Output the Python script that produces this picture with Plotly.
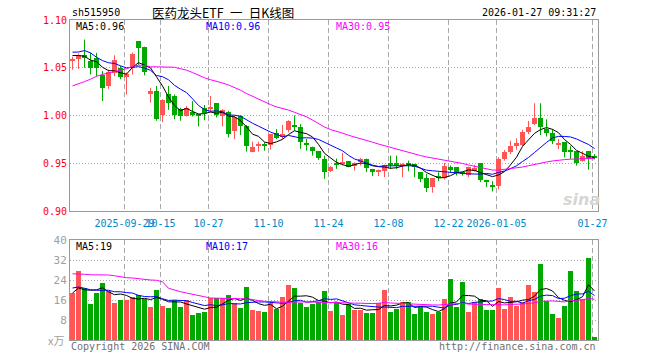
import numpy as np
import pandas as pd
import plotly.graph_objects as go

# ---------------- data ----------------
holidays = ["2025-10-01", "2025-10-02", "2025-10-03", "2025-10-06", "2025-10-07",
            "2025-10-08", "2026-01-01", "2026-01-02"]
_days = pd.bdate_range("2025-09-16", "2026-01-27")
_days = _days[~_days.isin(pd.to_datetime(holidays))]
dates = [d.strftime("%Y-%m-%d") for d in _days]

open_ = [1.0575, 1.0590, 1.0632, 1.0570, 1.0600, 1.0423, 1.0310, 1.0450, 1.0500, 1.0400,
         1.0500, 1.0777, 1.0720, 1.0220, 1.0256, 1.0003, 1.0220, 1.0204, 1.0066, 0.9997,
         1.0038, 1.0007, 1.0083, 1.0070, 1.0128, 0.9997, 1.0038, 0.9840, 0.9997, 0.9886,
         0.9615, 0.9684, 0.9688, 0.9691, 0.9813, 0.9771, 0.9851, 0.9889, 0.9875, 0.9705,
         0.9674, 0.9625, 0.9546, 0.9424, 0.9485, 0.9490, 0.9524, 0.9469, 0.9510, 0.9546,
         0.9441, 0.9410, 0.9424, 0.9486, 0.9503, 0.9476, 0.9486, 0.9493, 0.9406, 0.9344,
         0.9250, 0.9358, 0.9344, 0.9458, 0.9458, 0.9406, 0.9379, 0.9424, 0.9503, 0.9316,
         0.9264, 0.9267, 0.9545, 0.9621, 0.9683, 0.9690, 0.9823, 0.9910, 0.9972, 0.9857,
         0.9816, 0.9695, 0.9719, 0.9624, 0.9625, 0.9527, 0.9625, 0.9580]
high = [1.0615, 1.0650, 1.0795, 1.0656, 1.0656, 1.0465, 1.0480, 1.0630, 1.0520, 1.0450,
        1.0660, 1.0777, 1.0720, 1.0290, 1.0310, 1.0170, 1.0310, 1.0220, 1.0080, 1.0100,
        1.0150, 1.0014, 1.0110, 1.0204, 1.0130, 1.0066, 1.0049, 1.0000, 1.0003, 0.9900,
        0.9726, 0.9726, 0.9720, 0.9806, 0.9858, 0.9900, 0.9950, 1.0000, 0.9910, 0.9754,
        0.9674, 0.9625, 0.9580, 0.9470, 0.9549, 0.9608, 0.9524, 0.9510, 0.9556, 0.9549,
        0.9441, 0.9434, 0.9486, 0.9580, 0.9580, 0.9500, 0.9528, 0.9493, 0.9406, 0.9389,
        0.9344, 0.9406, 0.9503, 0.9476, 0.9458, 0.9413, 0.9465, 0.9483, 0.9503, 0.9327,
        0.9313, 0.9562, 0.9640, 0.9736, 0.9760, 0.9850, 0.9944, 1.0128, 1.0128, 0.9960,
        0.9857, 0.9753, 0.9719, 0.9683, 0.9625, 0.9625, 0.9625, 0.9597]
low = [1.0480, 1.0490, 1.0500, 1.0430, 1.0410, 1.0152, 1.0280, 1.0410, 1.0380, 1.0220,
       1.0430, 1.0530, 1.0420, 1.0135, 0.9945, 0.9930, 1.0060, 0.9960, 0.9945, 0.9990,
       0.9990, 0.9886, 0.9950, 1.0031, 0.9980, 0.9886, 0.9771, 0.9754, 0.9795, 0.9622,
       0.9615, 0.9622, 0.9632, 0.9643, 0.9754, 0.9754, 0.9823, 0.9840, 0.9650, 0.9632,
       0.9580, 0.9535, 0.9337, 0.9407, 0.9441, 0.9476, 0.9458, 0.9424, 0.9476, 0.9407,
       0.9365, 0.9365, 0.9355, 0.9441, 0.9441, 0.9354, 0.9417, 0.9354, 0.9302, 0.9198,
       0.9191, 0.9313, 0.9330, 0.9406, 0.9372, 0.9370, 0.9354, 0.9413, 0.9302, 0.9250,
       0.9205, 0.9226, 0.9527, 0.9597, 0.9642, 0.9683, 0.9805, 0.9900, 0.9795, 0.9780,
       0.9700, 0.9649, 0.9562, 0.9545, 0.9475, 0.9517, 0.9433, 0.9540]
close = [1.0585, 1.0635, 1.0598, 1.0500, 1.0500, 1.0292, 1.0460, 1.0585, 1.0400, 1.0430,
         1.0645, 1.0708, 1.0455, 1.0256, 0.9962, 1.0163, 1.0135, 1.0003, 0.9997, 1.0075,
         1.0003, 1.0000, 1.0024, 1.0083, 1.0003, 1.0059, 0.9806, 0.9980, 0.9886, 0.9677,
         0.9674, 0.9691, 0.9684, 0.9806, 0.9764, 0.9806, 0.9944, 0.9882, 0.9719, 0.9700,
         0.9632, 0.9556, 0.9413, 0.9462, 0.9482, 0.9517, 0.9465, 0.9503, 0.9546, 0.9448,
         0.9407, 0.9417, 0.9483, 0.9483, 0.9476, 0.9493, 0.9483, 0.9458, 0.9337, 0.9240,
         0.9344, 0.9354, 0.9476, 0.9434, 0.9399, 0.9385, 0.9458, 0.9448, 0.9320, 0.9313,
         0.9260, 0.9545, 0.9621, 0.9677, 0.9711, 0.9830, 0.9875, 0.9972, 0.9875, 0.9816,
         0.9736, 0.9701, 0.9615, 0.9620, 0.9503, 0.9580, 0.9545, 0.9552]
volume = [18.8, 27.5, 20.8, 14.5, 18.8, 22.9, 19.5, 14.9, 15.9, 15.9,
          17.1, 18.1, 16.4, 13.3, 20.1, 13.7, 12.9, 16.1, 13.3, 16.1,
          10.1, 10.8, 11.3, 16.7, 16.7, 16.7, 18.1, 14.8, 12.9, 21.3,
          12.1, 11.7, 11.3, 14.9, 12.5, 17.3, 22.1, 20.9, 14.9, 13.3,
          14.5, 15.3, 19.7, 11.7, 14.8, 10.1, 14.5, 12.1, 12.1, 10.9,
          10.9, 14.9, 20.1, 11.3, 12.5, 15.3, 15.3, 10.5, 13.3, 11.3,
          10.5, 11.3, 16.5, 24.5, 13.3, 23.3, 11.3, 15.3, 16.5, 12.1,
          12.1, 20.9, 12.5, 17.3, 13.7, 15.3, 22.1, 19.3, 30.5, 15.7,
          10.5, 8.9, 13.7, 27.7, 19.7, 16.5, 32.9, 1.3]

ma5_head = [1.0628, 1.0628, 1.0620, 1.0580]
ma10_head = [1.0663, 1.0665, 1.0680, 1.0656, 1.0610, 1.0575, 1.0552, 1.0545, 1.0520]
ma30_head = [1.0310, 1.0330, 1.0355, 1.0380, 1.0410, 1.0430, 1.0445, 1.0460, 1.0480, 1.0490,
             1.0515, 1.0527, 1.0525, 1.0510, 1.0510, 1.0510, 1.0510, 1.0505, 1.0490, 1.0475,
             1.0450, 1.0420, 1.0395, 1.0375, 1.0360, 1.0340, 1.0320, 1.0295, 1.0265]
vol_ma5_head = [18.8, 20.8, 20.1, 19.9]
vol_ma10_head = [20.8, 21.2, 20.7, 20.1, 19.9, 19.9, 19.9, 19.3, 19.3]
vol_ma30_head = [26.5, 26.5, 26.3, 26.1, 26.1, 26.1, 26.0, 25.7, 25.2, 24.9,
                 24.8, 24.5, 24.1, 24.0, 23.9, 23.3, 20.7, 19.9, 19.3, 18.8,
                 18.4, 17.9, 17.3, 16.8, 16.7, 16.5, 16.5, 16.5, 16.5]

tick_dates = ["2025-09-29", "2025-10-15", "2025-10-27", "2025-11-10", "2025-11-24",
              "2025-12-08", "2025-12-22", "2026-01-05", "2026-01-27"]
tick_labels = ["2025-09-29", "10-15", "10-27", "11-10", "11-24", "12-08", "12-22",
               "2026-01-05", "01-27"]
price_ticks = [0.90, 0.95, 1.00, 1.05, 1.10]
price_tick_labels = ["0.90", "0.95", "1.00", "1.05", "1.10"]
vol_ticks = [8, 16, 24, 32, 40]
vol_tick_labels = ["8", "16", "24", "32", "40"]

title_code = "sh515950"
title_name = "医药龙头ETF\u2002一\u2002日K线图"
timestamp = "2026-01-27 09:31:27"
price_ma_labels = ["MA5:0.96", "MA10:0.96", "MA30:0.95"]
vol_ma_labels = ["MA5:19", "MA10:17", "MA30:16"]

# ---------------- styling ----------------
W, H = 660, 360
RED = "#ff5555"
GREEN = "#00a800"
MA_COLORS = ["#000000", "#0000ff", "#ff00ff"]
GRID = "#a8a8a8"
FRAME = "#999999"
MONO = "DejaVu Sans Mono"
X0, X1 = 70, 598          # plot area, px
PY0, PY1 = 20, 211        # price panel top/bottom, px
VY0, VY1 = 240, 340       # volume panel top/bottom, px

O = np.array(open_); Hh = np.array(high); L = np.array(low); C = np.array(close)
V = np.array(volume)
n = len(dates)
x = np.arange(n)
up = C >= O


def with_head(series, window, head):
    arr = pd.Series(series).rolling(window).mean().to_numpy()
    arr[:len(head)] = head
    return arr


ma_price = [with_head(C, 5, ma5_head), with_head(C, 10, ma10_head), with_head(C, 30, ma30_head)]
ma_vol = [with_head(V, 5, vol_ma5_head), with_head(V, 10, vol_ma10_head), with_head(V, 30, vol_ma30_head)]

fig = go.Figure()

# wicks
for mask, col in ((up, RED), (~up, GREEN)):
    wx, wy = [], []
    for i in x[mask]:
        wx += [i, i, None]
        wy += [L[i], Hh[i], None]
    fig.add_trace(go.Scatter(x=wx, y=wy, mode="lines", line=dict(color=col, width=1),
                             hoverinfo="skip", xaxis="x", yaxis="y"))

# bodies
body_h = np.maximum(np.abs(C - O), 0.0011)
body_b = np.minimum(O, C)
for mask, col in ((up, RED), (~up, GREEN)):
    fig.add_trace(go.Bar(x=x[mask], y=body_h[mask], base=body_b[mask], width=0.83,
                         marker=dict(color=col, line=dict(width=0)),
                         xaxis="x", yaxis="y"))

for arr, col in zip(ma_price, MA_COLORS):
    fig.add_trace(go.Scatter(x=x, y=arr, mode="lines", line=dict(color=col, width=1),
                             xaxis="x", yaxis="y"))

# volume
fig.add_trace(go.Bar(x=x, y=V, width=0.83,
                     marker=dict(color=[RED if u else GREEN for u in up], line=dict(width=0)),
                     xaxis="x2", yaxis="y2"))
for arr, col in zip(ma_vol, MA_COLORS):
    fig.add_trace(go.Scatter(x=x, y=arr, mode="lines", line=dict(color=col, width=1),
                             xaxis="x2", yaxis="y2"))

xr = [-(2.5 / 6), -(2.5 / 6) + (X1 - X0) / 6]
tickpos = [dates.index(d) - 1 / 3 for d in tick_dates]

common_x = dict(range=xr, domain=[X0 / W, X1 / W], showgrid=True, gridcolor=GRID,
                griddash="5px,3px", gridwidth=1, zeroline=False, showline=True,
                mirror=True, linecolor=FRAME, linewidth=1, tickvals=tickpos, ticks="",
                fixedrange=True, automargin=False)

fig.update_layout(
    width=W, height=H, margin=dict(l=0, r=0, t=0, b=0, autoexpand=False),
    paper_bgcolor="white", plot_bgcolor="white", showlegend=False, barmode="overlay",
    bargap=0,
    xaxis=dict(**common_x, anchor="y", ticktext=tick_labels, tickangle=0,
               ticklabelstandoff=3,
               tickfont=dict(family=MONO, size=10, color="#0088cc")),
    xaxis2=dict(**common_x, anchor="y2", matches="x", showticklabels=False),
    yaxis=dict(domain=[1 - PY1 / H, 1 - PY0 / H], range=[0.90, 1.10], tickvals=price_ticks,
               ticktext=price_tick_labels, tickfont=dict(family=MONO, size=10, color="#ff0000"),
               showgrid=True, gridcolor=GRID, griddash="1px,2px", zeroline=False,
               showline=True, mirror=True, linecolor=FRAME, linewidth=1, ticks="",
               anchor="x", fixedrange=True, automargin=False),
    yaxis2=dict(domain=[1 - VY1 / H, 1 - VY0 / H], range=[0, 40], tickvals=vol_ticks,
                ticktext=vol_tick_labels, tickfont=dict(family=MONO, size=11, color="#a0a0a0"),
                showgrid=True, gridcolor=GRID, griddash="1px,2px", zeroline=False,
                showline=True, mirror=True, linecolor=FRAME, linewidth=1, ticks="",
                anchor="x2", fixedrange=True, automargin=False),
)


def note(text, px, py, color="#000000", size=10, anchor="left", family=MONO, **kw):
    fig.add_annotation(text=text, x=px / W, y=1 - py / H, xref="paper", yref="paper",
                       xanchor=anchor, yanchor="middle", showarrow=False,
                       font=dict(family=family, size=size, color=color, **kw))


note(title_code, 70, 13)
note(title_name, 223, 12.5, size=12.5, anchor="center", family="Noto Sans CJK SC")
note(timestamp, 598, 13, anchor="right")
for lab, xp, col in zip(price_ma_labels, (74, 204, 334), MA_COLORS):
    note(lab, xp, 26.5, color=col)
for lab, xp, col in zip(vol_ma_labels, (74, 204, 334), MA_COLORS):
    note(lab, xp, 246, color=col)
note("x万", 66, 340, color="#a0a0a0", size=11, anchor="right", family="Noto Sans CJK SC")
note("Copyright 2026 SINA.COM", 69, 346, color="#707070")
note("http://finance.sina.com.cn", 598, 346, color="#707070", anchor="right")
note("sina", 581, 199, color="#d6d6d6", size=16, anchor="center", family="DejaVu Sans",
     style="italic", weight="bold")

fig.write_html("out.html", config={"displayModeBar": False},
               post_script="document.body.style.margin='0';")
